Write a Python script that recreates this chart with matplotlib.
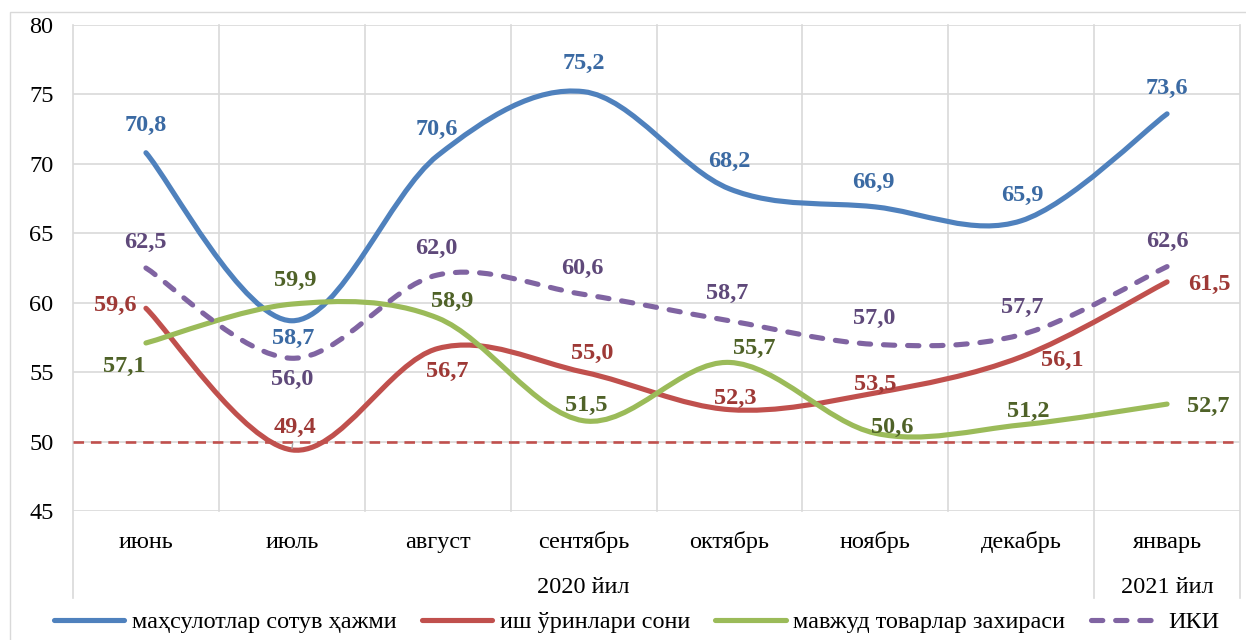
import matplotlib
matplotlib.use('Agg')
import matplotlib.pyplot as plt
import matplotlib.transforms as mtransforms
from matplotlib.path import Path
from matplotlib.patches import PathPatch, Rectangle
from matplotlib.lines import Line2D
import numpy as np

plt.rcParams['font.family'] = ['Liberation Serif', 'DejaVu Serif']

# data
months = ['июнь', 'июль', 'август', 'сентябрь', 'октябрь', 'ноябрь', 'декабрь', 'январь']
years = ['2020 йил', '2021 йил']
year_first = [0, 7]
year_last = [6, 7]

sales = [70.8, 58.7, 70.6, 75.2, 68.2, 66.9, 65.9, 73.6]
jobs = [59.6, 49.4, 56.7, 55.0, 52.3, 53.5, 56.1, 61.5]
stocks = [57.1, 59.9, 58.9, 51.5, 55.7, 50.6, 51.2, 52.7]
iki = [62.5, 56.0, 62.0, 60.6, 58.7, 57.0, 57.7, 62.6]
threshold = 50

series_names = ['маҳсулотлар сотув ҳажми', 'иш ўринлари сони',
                'мавжуд товарлар захираси', 'ИКИ']

# styles
line_colors = ['#4F81BD', '#C0504D', '#9BBB59', '#8064A2']
label_colors = ['#3B6AA3', '#9E3936', '#4F6228', '#5F497A']
dashed = [False, False, False, True]
FS = 17.5

# label offsets in pixels (dx, dy up), measured to the centre of the digits
label_offsets = [
    [(0, 30), (1, -15), (-1, 29), (0, 31), (0, 30), (-2, 27), (1, 28), (0, 28)],
    [(-31, 5), (3, 25), (10, -20), (9, 21), (6, 14), (0, 11), (41, -1), (42, 0)],
    [(-22, -21), (3, 26), (14, 19), (3, 18), (25, 16), (17, 8), (7, 16), (41, 0)],
    [(-1, 28), (0, -19), (-1, 29), (-1, 28), (-2, 30), (-1, 28), (1, 30), (0, 28)],
]


def smooth_path(x, y):
    # Excel style smoothed line (Catmull-Rom as cubic Bezier)
    pts = np.column_stack([x, y]).astype(float)
    n = len(pts)
    verts = [pts[0]]
    codes = [Path.MOVETO]
    for i in range(n - 1):
        p0 = pts[max(i - 1, 0)]
        p1 = pts[i]
        p2 = pts[i + 1]
        p3 = pts[min(i + 2, n - 1)]
        verts += [p1 + (p2 - p0) / 6, p2 - (p3 - p1) / 6, p2]
        codes += [Path.CURVE4] * 3
    return Path(verts, codes)


W, H = 1246, 640
fig = plt.figure(figsize=(W / 100, H / 100), dpi=100)
ax = fig.add_axes([73 / W, 1 - 511 / H, (1240 - 73) / W, 486 / H])

x = np.arange(len(months))
ax.set_xlim(-0.5, len(months) - 0.5)
ax.set_ylim(45, 80)
ax.set_yticks(np.arange(45, 81, 5))
ax.set_xticks([])
ax.tick_params(axis='y', length=0, pad=14, labelsize=FS)
for s in ax.spines.values():
    s.set_visible(False)
ax.yaxis.grid(True, color='#d9d9d9', lw=1.2)
ax.set_axisbelow(True)

trans = mtransforms.blended_transform_factory(ax.transData, ax.transAxes)
group_edges = [year_first[0] - 0.5] + [l + 0.5 for l in year_last]
for b in np.arange(-0.5, len(months), 1.0):
    lo = -0.179 if any(abs(b - g) < 1e-6 for g in group_edges) else 0
    ax.plot([b, b], [lo, 1], transform=trans, color='#d9d9d9', lw=1.2,
            clip_on=False, zorder=0.5)

# category labels
for i, m in enumerate(months):
    ax.text(i, -0.0761, m, transform=trans, ha='center', va='baseline', fontsize=FS)
for name, a, b in zip(years, year_first, year_last):
    ax.text((a + b) / 2, -0.168, name, transform=trans, ha='center',
            va='baseline', fontsize=FS)

# threshold line
ax.axhline(threshold, color='#C0504D', lw=1.9, dashes=(4, 2.6), zorder=1)

handles = []
all_series = [sales, jobs, stocks, iki]
for k, vals in enumerate(all_series):
    ls = (0, (2.2, 2.5)) if dashed[k] else '-'
    patch = PathPatch(smooth_path(x, vals), fill=False, edgecolor=line_colors[k],
                      lw=3.7, linestyle=ls, capstyle='round', joinstyle='round',
                      zorder=2 + k)
    ax.add_patch(patch)
    handles.append(Line2D([], [], color=line_colors[k], lw=3.7, linestyle=ls,
                          dash_capstyle='round', solid_capstyle='round'))
    for i, v in enumerate(vals):
        dx, dy = label_offsets[k][i]
        arrow = None
        if k == 1 and i == 1:
            arrow = dict(arrowstyle='-', color='#a6a6a6', lw=1, shrinkA=2, shrinkB=1)
        ax.annotate(f'{v:.1f}'.replace('.', ','), xy=(i, v),
                    xytext=(dx, dy - 8), textcoords='offset pixels',
                    ha='center', va='baseline', fontsize=FS, fontweight='bold',
                    color=label_colors[k], arrowprops=arrow, zorder=10)

fig.legend(handles, series_names, loc='center', bbox_to_anchor=(0.511, 0.028),
           ncol=4, frameon=False, fontsize=FS, handlelength=2.9,
           handletextpad=0.3, columnspacing=1.05)

fig.add_artist(Rectangle((9.5 / W, -0.1), 2, 1 - 11.5 / H + 0.1,
                         transform=fig.transFigure, fill=False,
                         edgecolor='#d9d9d9', lw=1))

fig.savefig('out.png', dpi=100, facecolor='white')
